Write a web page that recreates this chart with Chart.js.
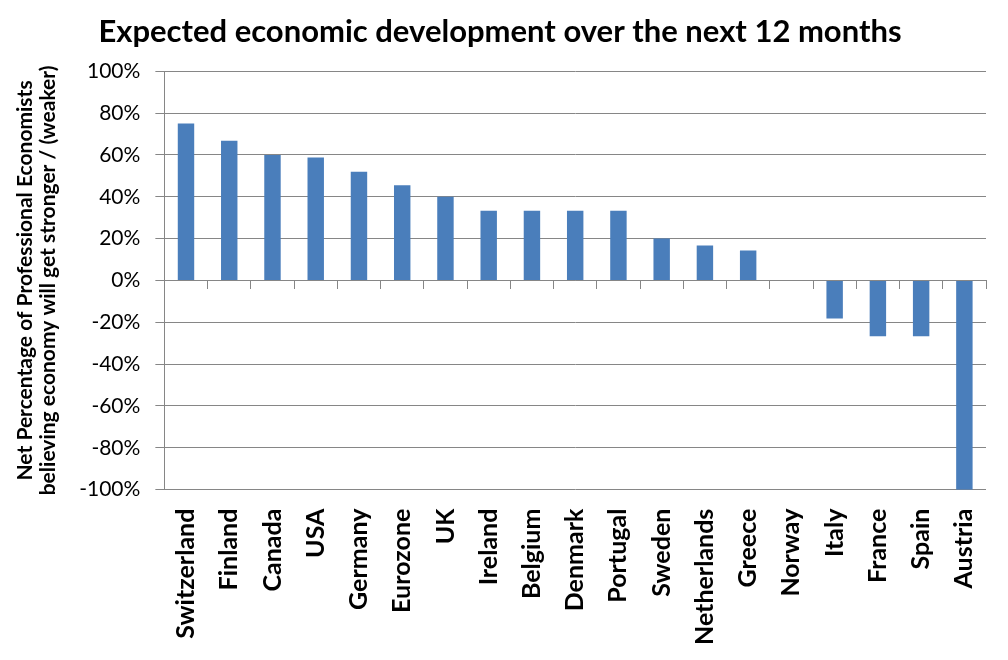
<!DOCTYPE html>
<html>
<head>
<meta charset="utf-8">
<script src="https://cdn.jsdelivr.net/npm/chart.js@4"></script>
<style>
  html, body { margin: 0; padding: 0; background: #fff; }
  #wrap { width: 1008px; height: 660px; }
</style>
</head>
<body>
<div id="wrap"><canvas id="econChart"></canvas></div>
<script>
// chart data
const countries = ["Switzerland", "Finland", "Canada", "USA", "Germany", "Eurozone", "UK",
  "Ireland", "Belgium", "Denmark", "Portugal", "Sweden", "Netherlands", "Greece",
  "Norway", "Italy", "France", "Spain", "Austria"];
const netPct = [75, 66.7, 60, 58.8, 52, 45.5, 40, 33.3, 33.3, 33.3, 33.3, 20, 16.7, 14.3,
  0, -18.2, -26.7, -26.7, -100];
const yTitle = ["Net Percentage of Professional Economists",
  "believing economy will get stronger / (weaker)"];

const gridGray = "#868686";
const fontFam = "Lato, 'Open Sans', sans-serif";

const ctx = document.getElementById("econChart");

new Chart(ctx, {
  type: "bar",
  data: {
    labels: countries,
    datasets: [
      {
        data: netPct,
        backgroundColor: "#4a7ebb",
        barPercentage: 0.38,
        categoryPercentage: 1,
      },
    ],
  },
  options: {
    responsive: true,
    maintainAspectRatio: false,
    animation: false,
    layout: { padding: { top: 13, right: 22, bottom: 4, left: 14 } },
    plugins: {
      legend: { display: false },
      tooltip: { enabled: false },
      title: {
        display: true,
        text: "Expected economic development over the next 12 months",
        color: "#000",
        font: { family: fontFam, size: 31, weight: "bold" },
        padding: { top: 0, bottom: 21 },
      },
    },
    scales: {
      x: {
        position: "bottom",
        grid: { display: false },
        border: { display: false },
        ticks: {
          color: "#000",
          font: { family: fontFam, size: 25, weight: "bold" },
          maxRotation: 90,
          minRotation: 90,
          padding: 11,
          autoSkip: false,
        },
      },
      // axis line at zero with tick marks between categories
      x2: {
        type: "category",
        position: { y: 0 },
        grid: {
          display: true,
          drawOnChartArea: false,
          offset: true,
          tickLength: 8,
          color: gridGray,
        },
        border: { display: true, color: gridGray },
        ticks: { display: false },
      },
      y: {
        min: -100,
        max: 100,
        grid: { color: gridGray, tickLength: 9 },
        border: { display: true, color: gridGray },
        ticks: {
          stepSize: 20,
          color: "#000",
          padding: 15,
          font: { family: fontFam, size: 21 },
          callback: (v) => v + "%",
        },
        title: {
          display: true,
          text: yTitle,
          color: "#000",
          font: { family: fontFam, size: 21, weight: "bold", lineHeight: 1.1 },
          padding: { top: 0, bottom: 4 },
        },
      },
    },
  },
});
</script>
</body>
</html>
